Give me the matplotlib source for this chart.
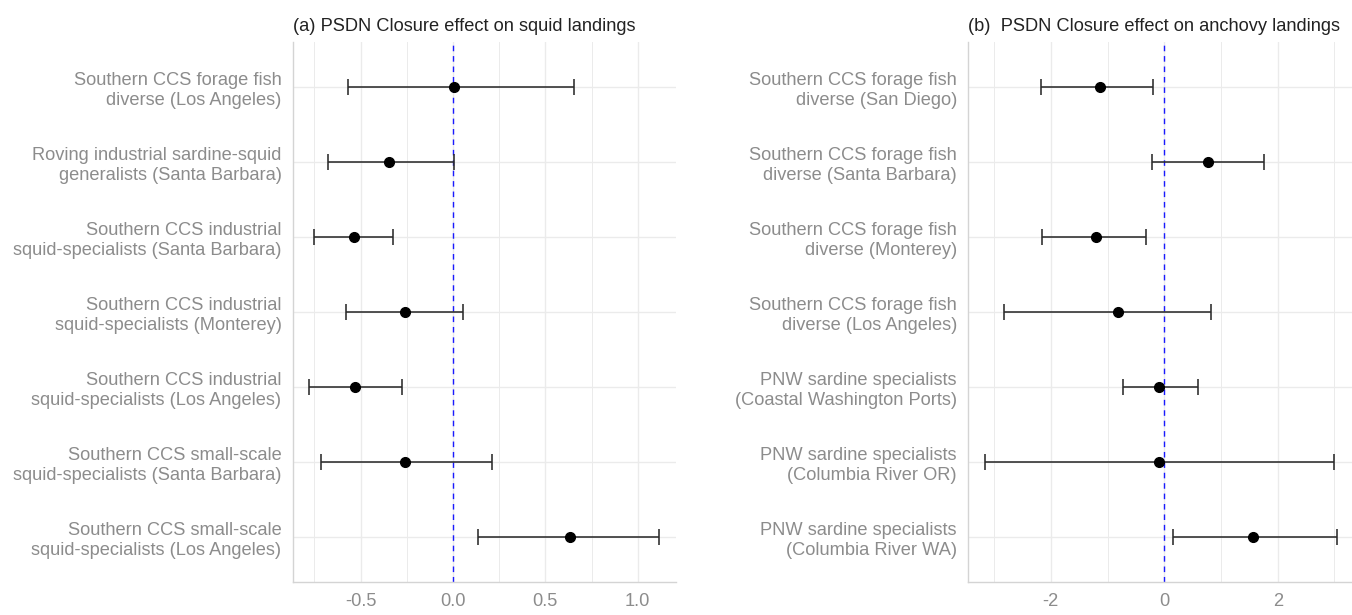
import matplotlib
matplotlib.use("Agg")
import matplotlib.pyplot as plt
import numpy as np
from matplotlib.ticker import FixedLocator

plt.rcParams['font.family'] = ['Liberation Sans', 'DejaVu Sans']
plt.rcParams['axes.unicode_minus'] = False

# ---- data ----
squid_labels = [
    "Southern CCS forage fish\ndiverse (Los Angeles)",
    "Roving industrial sardine-squid\ngeneralists (Santa Barbara)",
    "Southern CCS industrial\nsquid-specialists (Santa Barbara)",
    "Southern CCS industrial\nsquid-specialists (Monterey)",
    "Southern CCS industrial\nsquid-specialists (Los Angeles)",
    "Southern CCS small-scale\nsquid-specialists (Santa Barbara)",
    "Southern CCS small-scale\nsquid-specialists (Los Angeles)",
]
squid_est = [0.005, -0.345, -0.534, -0.262, -0.529, -0.259, 0.635]
squid_lo = [-0.570, -0.675, -0.752, -0.580, -0.777, -0.716, 0.138]
squid_hi = [0.655, 0.005, -0.325, 0.053, -0.277, 0.212, 1.115]

anch_labels = [
    "Southern CCS forage fish\ndiverse (San Diego)",
    "Southern CCS forage fish\ndiverse (Santa Barbara)",
    "Southern CCS forage fish\ndiverse (Monterey)",
    "Southern CCS forage fish\ndiverse (Los Angeles)",
    "PNW sardine specialists\n(Coastal Washington Ports)",
    "PNW sardine specialists\n(Columbia River OR)",
    "PNW sardine specialists\n(Columbia River WA)",
]
anch_est = [-1.14, 0.77, -1.21, -0.81, -0.10, -0.09, 1.57]
anch_lo = [-2.18, -0.22, -2.16, -2.83, -0.73, -3.16, 0.15]
anch_hi = [-0.20, 1.76, -0.33, 0.82, 0.59, 2.99, 3.04]

squid_ticks = [-0.5, 0.0, 0.5, 1.0]
squid_ticklabels = ["-0.5", "0.0", "0.5", "1.0"]
squid_minor = [-0.75, -0.25, 0.25, 0.75]
anch_ticks = [-2, 0, 2]
anch_ticklabels = ["-2", "0", "2"]
anch_minor = [-3, -1, 1, 3]

fig = plt.figure(figsize=(13.52, 6.15), dpi=100)
ax_a = fig.add_axes([0.2165, 0.0537, 0.2835, 0.878])
ax_b = fig.add_axes([0.716, 0.0537, 0.284, 0.878])

TXT = '#8c8c8c'
FS = 13.15

def panel(ax, labels, est, lo, hi, ticks, ticklabels, minor, xlim, title):
    n = len(labels)
    y = np.arange(n, 0, -1)
    est = np.array(est); lo = np.array(lo); hi = np.array(hi)
    ax.errorbar(est, y, xerr=[est - lo, hi - est], fmt='none', ecolor='#2b2b2b',
                elinewidth=1.15, capsize=5.8, capthick=1.15, zorder=3)
    ax.plot(est, y, 'o', color='black', markersize=7, zorder=4)
    ax.axvline(0, color='#1a1aff', linestyle=(0, (4, 3.5)), linewidth=1.0, zorder=2)
    ax.set_xlim(*xlim)
    ax.set_ylim(0.4, n + 0.6)
    ax.set_yticks(y)
    ax.set_yticklabels(labels, fontsize=FS, color=TXT, ha='right')
    ax.set_xticks(ticks)
    ax.set_xticklabels(ticklabels, fontsize=FS, color=TXT)
    ax.xaxis.set_minor_locator(FixedLocator(minor))
    ax.tick_params(axis='both', which='both', length=0)
    ax.tick_params(axis='x', pad=8)
    ax.tick_params(axis='y', pad=8)
    ax.grid(True, which='major', axis='both', color='#ebebeb', linewidth=1.0, zorder=0)
    ax.grid(True, which='minor', axis='x', color='#ebebeb', linewidth=0.7, zorder=0)
    ax.set_axisbelow(True)
    for s in ['top', 'right']:
        ax.spines[s].set_visible(False)
    for s in ['left', 'bottom']:
        ax.spines[s].set_color('#d4d4d4')
        ax.spines[s].set_linewidth(1.0)
    ax.set_title(title, loc='left', fontsize=FS, color='#222222', pad=8)

panel(ax_a, squid_labels, squid_est, squid_lo, squid_hi, squid_ticks, squid_ticklabels,
      squid_minor, (-0.867, 1.207), "(a) PSDN Closure effect on squid landings")
panel(ax_b, anch_labels, anch_est, anch_lo, anch_hi, anch_ticks, anch_ticklabels,
      anch_minor, (-3.46, 3.31), "(b)  PSDN Closure effect on anchovy landings")

fig.savefig("out.png", dpi=100)
